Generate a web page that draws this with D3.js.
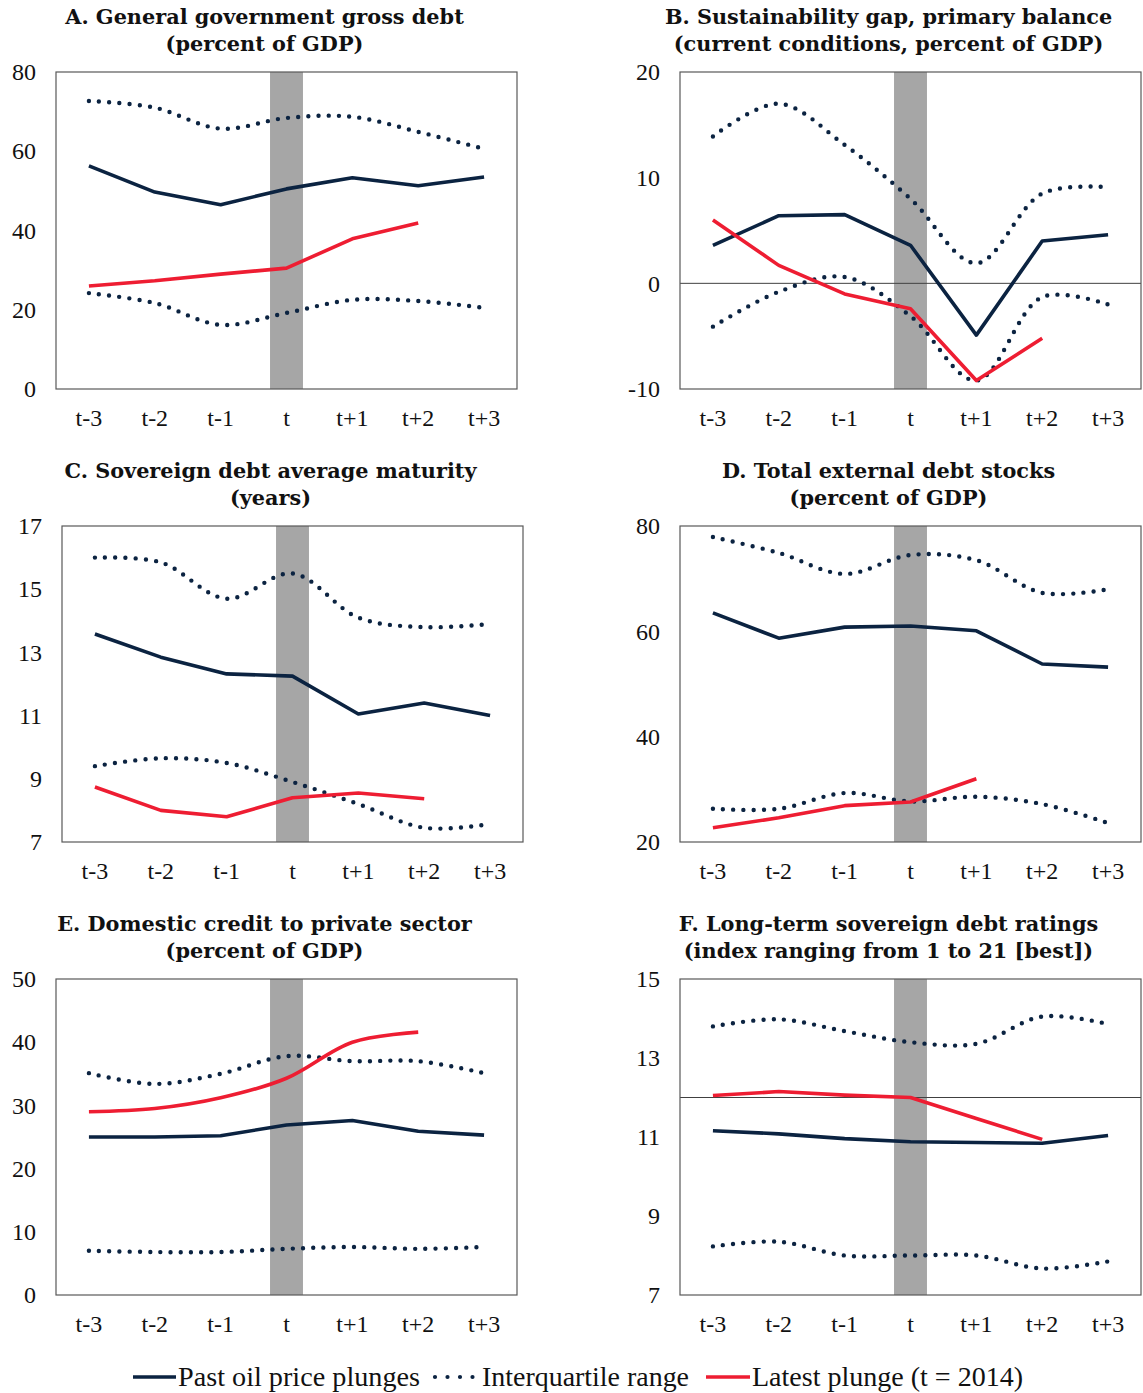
<!DOCTYPE html>
<html>
<head>
<meta charset="utf-8">
<script src="https://cdn.jsdelivr.net/npm/d3@7"></script>
<style>
body { margin: 0; background: #fff; }
svg { display: block; }
</style>
</head>
<body>
<svg id="chart" width="1143" height="1393"></svg>
<script>
const categories = ["t-3", "t-2", "t-1", "t", "t+1", "t+2", "t+3"];

// Panel A: General government gross debt
const aTitle = ["A. General government gross debt", "(percent of GDP)"];
const aTicks = [0, 20, 40, 60, 80];
const aPast = [56.3, 49.7, 46.5, 50.5, 53.3, 51.3, 53.5];
const aUpper = [72.7, 71.0, 65.7, 68.4, 68.7, 64.9, 60.6];
const aLower = [24.2, 21.7, 16.2, 19.2, 22.5, 22.2, 20.5];
const aLatest = [26.0, 27.3, 29.0, 30.5, 37.9, 41.9];

// Panel B: Sustainability gap
const bTitle = ["B. Sustainability gap, primary balance", "(current conditions, percent of GDP)"];
const bTicks = [-10, 0, 10, 20];
const bPast = [3.6, 6.4, 6.5, 3.6, -4.9, 4.0, 4.6];
const bUpper = [13.9, 17.0, 13.1, 8.0, 1.9, 8.5, 9.1];
const bLower = [-4.1, -0.8, 0.6, -3.1, -9.2, -1.3, -2.0];
const bLatest = [6.0, 1.7, -1.0, -2.4, -9.2, -5.2];

// Panel C: Sovereign debt average maturity
const cTitle = ["C. Sovereign debt average maturity", "(years)"];
const cTicks = [7, 9, 11, 13, 15, 17];
const cPast = [13.58, 12.85, 12.32, 12.25, 11.05, 11.4, 11.0];
const cUpper = [16.0, 15.85, 14.7, 15.5, 14.1, 13.8, 13.9];
const cLower = [9.4, 9.65, 9.5, 8.9, 8.2, 7.45, 7.57];
const cLatest = [8.74, 8.0, 7.8, 8.4, 8.55, 8.37];

// Panel D: Total external debt stocks
const dTitle = ["D. Total external debt stocks", "(percent of GDP)"];
const dTicks = [20, 40, 60, 80];
const dPast = [63.5, 58.7, 60.8, 61.0, 60.1, 53.8, 53.2];
const dUpper = [77.9, 74.9, 70.9, 74.5, 73.5, 67.3, 68.0];
const dLower = [26.3, 26.3, 29.3, 27.7, 28.6, 27.2, 23.6];
const dLatest = [22.7, 24.6, 26.9, 27.6, 32.0];

// Panel E: Domestic credit to private sector
const eTitle = ["E. Domestic credit to private sector", "(percent of GDP)"];
const eTicks = [0, 10, 20, 30, 40, 50];
const ePast = [25.0, 25.0, 25.2, 26.9, 27.6, 25.9, 25.3];
const eUpper = [35.1, 33.4, 35.0, 37.8, 37.0, 37.0, 35.1];
const eLower = [7.0, 6.8, 6.8, 7.3, 7.6, 7.3, 7.6];
const eLatest = [29.0, 29.5, 31.2, 34.3, 40.0, 41.6];

// Panel F: Long-term sovereign debt ratings
const fTitle = ["F. Long-term sovereign debt ratings", "(index ranging from 1 to 21 [best])"];
const fTicks = [7, 9, 11, 13, 15];
const fPast = [11.16, 11.08, 10.96, 10.88, 10.86, 10.84, 11.04];
const fUpper = [13.8, 13.98, 13.68, 13.4, 13.36, 14.05, 13.86];
const fLower = [8.23, 8.35, 8.0, 8.0, 8.0, 7.67, 7.85];
const fLatest = [12.05, 12.15, 12.06, 12.0, 11.47, 10.94];

const legendLabels = ["Past oil price plunges", "Interquartile range", "Latest plunge (t = 2014)"];

const NAVY = "#0b2341";
const RED = "#ee1d32";
const SERIF = "'Liberation Serif', 'Times New Roman', serif";

const panels = [
  { title: aTitle, ticks: aTicks, past: aPast, upper: aUpper, lower: aLower, latest: aLatest,
    box: { x: 56, y: 72, w: 461, h: 317 }, refLine: null, smoothRed: false },
  { title: bTitle, ticks: bTicks, past: bPast, upper: bUpper, lower: bLower, latest: bLatest,
    box: { x: 680, y: 72, w: 461, h: 317 }, refLine: 0, smoothRed: false },
  { title: cTitle, ticks: cTicks, past: cPast, upper: cUpper, lower: cLower, latest: cLatest,
    box: { x: 62, y: 526, w: 461, h: 316 }, refLine: null, smoothRed: false },
  { title: dTitle, ticks: dTicks, past: dPast, upper: dUpper, lower: dLower, latest: dLatest,
    box: { x: 680, y: 526, w: 461, h: 316 }, refLine: null, smoothRed: false },
  { title: eTitle, ticks: eTicks, past: ePast, upper: eUpper, lower: eLower, latest: eLatest,
    box: { x: 56, y: 979, w: 461, h: 316 }, refLine: null, smoothRed: true },
  { title: fTitle, ticks: fTicks, past: fPast, upper: fUpper, lower: fLower, latest: fLatest,
    box: { x: 680, y: 979, w: 461, h: 316 }, refLine: 12, smoothRed: false }
];

const svg = d3.select("#chart");

panels.forEach(p => {
  const b = p.box;
  const g = svg.append("g").attr("transform", `translate(${b.x},${b.y})`);
  const x = d3.scaleBand().domain(categories).range([0, b.w]).padding(0);
  const cx = d => x(d) + x.bandwidth() / 2;
  const y = d3.scaleLinear().domain(d3.extent(p.ticks)).range([b.h, 0]);

  // shaded band at t
  g.append("rect")
    .attr("x", cx("t") - x.bandwidth() / 4)
    .attr("y", 0)
    .attr("width", x.bandwidth() / 2)
    .attr("height", b.h)
    .attr("fill", "#a6a6a6");

  // reference line
  if (p.refLine !== null) {
    g.append("line")
      .attr("x1", 0).attr("x2", b.w)
      .attr("y1", y(p.refLine)).attr("y2", y(p.refLine))
      .attr("stroke", "#404040").attr("stroke-width", 1);
  }

  const lineLin = d3.line().x((d, i) => cx(categories[i])).y(d => y(d));
  const lineSmooth = d3.line().x((d, i) => cx(categories[i])).y(d => y(d)).curve(d3.curveCatmullRom.alpha(0.5));

  [p.upper, p.lower].forEach(arr => {
    g.append("path").datum(arr)
      .attr("d", lineSmooth)
      .attr("fill", "none")
      .attr("stroke", NAVY)
      .attr("stroke-width", 4.4)
      .attr("stroke-linecap", "round")
      .attr("stroke-dasharray", "0 10.2");
  });

  g.append("path").datum(p.past)
    .attr("d", lineLin)
    .attr("fill", "none")
    .attr("stroke", NAVY)
    .attr("stroke-width", 3.6)
    .attr("stroke-linejoin", "round");

  g.append("path").datum(p.latest)
    .attr("d", p.smoothRed ? lineSmooth : lineLin)
    .attr("fill", "none")
    .attr("stroke", RED)
    .attr("stroke-width", 3.6)
    .attr("stroke-linejoin", "round");

  // frame
  g.append("rect")
    .attr("x", 0).attr("y", 0).attr("width", b.w).attr("height", b.h)
    .attr("fill", "none").attr("stroke", "#595959").attr("stroke-width", 1.2);

  // y axis
  const yAxis = d3.axisLeft(y).tickValues(p.ticks).tickSize(0).tickPadding(20).tickFormat(d => String(d));
  const ya = g.append("g").call(yAxis);
  ya.select(".domain").remove();
  ya.selectAll("text")
    .attr("font-family", SERIF)
    .attr("font-size", 24)
    .attr("fill", "#111");

  // x axis
  const xAxis = d3.axisBottom(x).tickSize(0).tickPadding(20);
  const xa = g.append("g").attr("transform", `translate(0,${b.h})`).call(xAxis);
  xa.select(".domain").remove();
  xa.selectAll("text")
    .attr("font-family", SERIF)
    .attr("font-size", 24)
    .attr("fill", "#111");

  // title
  const tcx = b.w / 2 - 22;
  p.title.forEach((t, i) => {
    g.append("text")
      .attr("x", tcx)
      .attr("y", -48 + i * 27)
      .attr("text-anchor", "middle")
      .attr("font-family", "'DejaVu Serif', serif")
      .attr("font-weight", "bold")
      .attr("font-size", 20.8)
      .attr("fill", "#111")
      .text(t);
  });
});

// legend
const lg = svg.append("g").attr("transform", "translate(0,1377)");
const legendItems = [
  { x0: 133, x1: 176, label: legendLabels[0], color: NAVY, dash: null, w: 3.6, tx: 178, tl: 242 },
  { x0: 435, x1: 473, label: legendLabels[1], color: NAVY, dash: "0 12.5", w: 4.2, tx: 482, tl: 207 },
  { x0: 706, x1: 750, label: legendLabels[2], color: RED, dash: null, w: 3.6, tx: 752, tl: 271 }
];
legendItems.forEach(it => {
  const ln = lg.append("line")
    .attr("x1", it.x0).attr("x2", it.x1)
    .attr("y1", 0).attr("y2", 0)
    .attr("stroke", it.color).attr("stroke-width", it.w);
  if (it.dash) ln.attr("stroke-dasharray", it.dash).attr("stroke-linecap", "round");
  lg.append("text")
    .attr("x", it.tx)
    .attr("y", 9)
    .attr("font-family", SERIF)
    .attr("font-size", 27)
    .attr("textLength", it.tl)
    .attr("lengthAdjust", "spacingAndGlyphs")
    .attr("fill", "#111")
    .text(it.label);
});
</script>
</body>
</html>
